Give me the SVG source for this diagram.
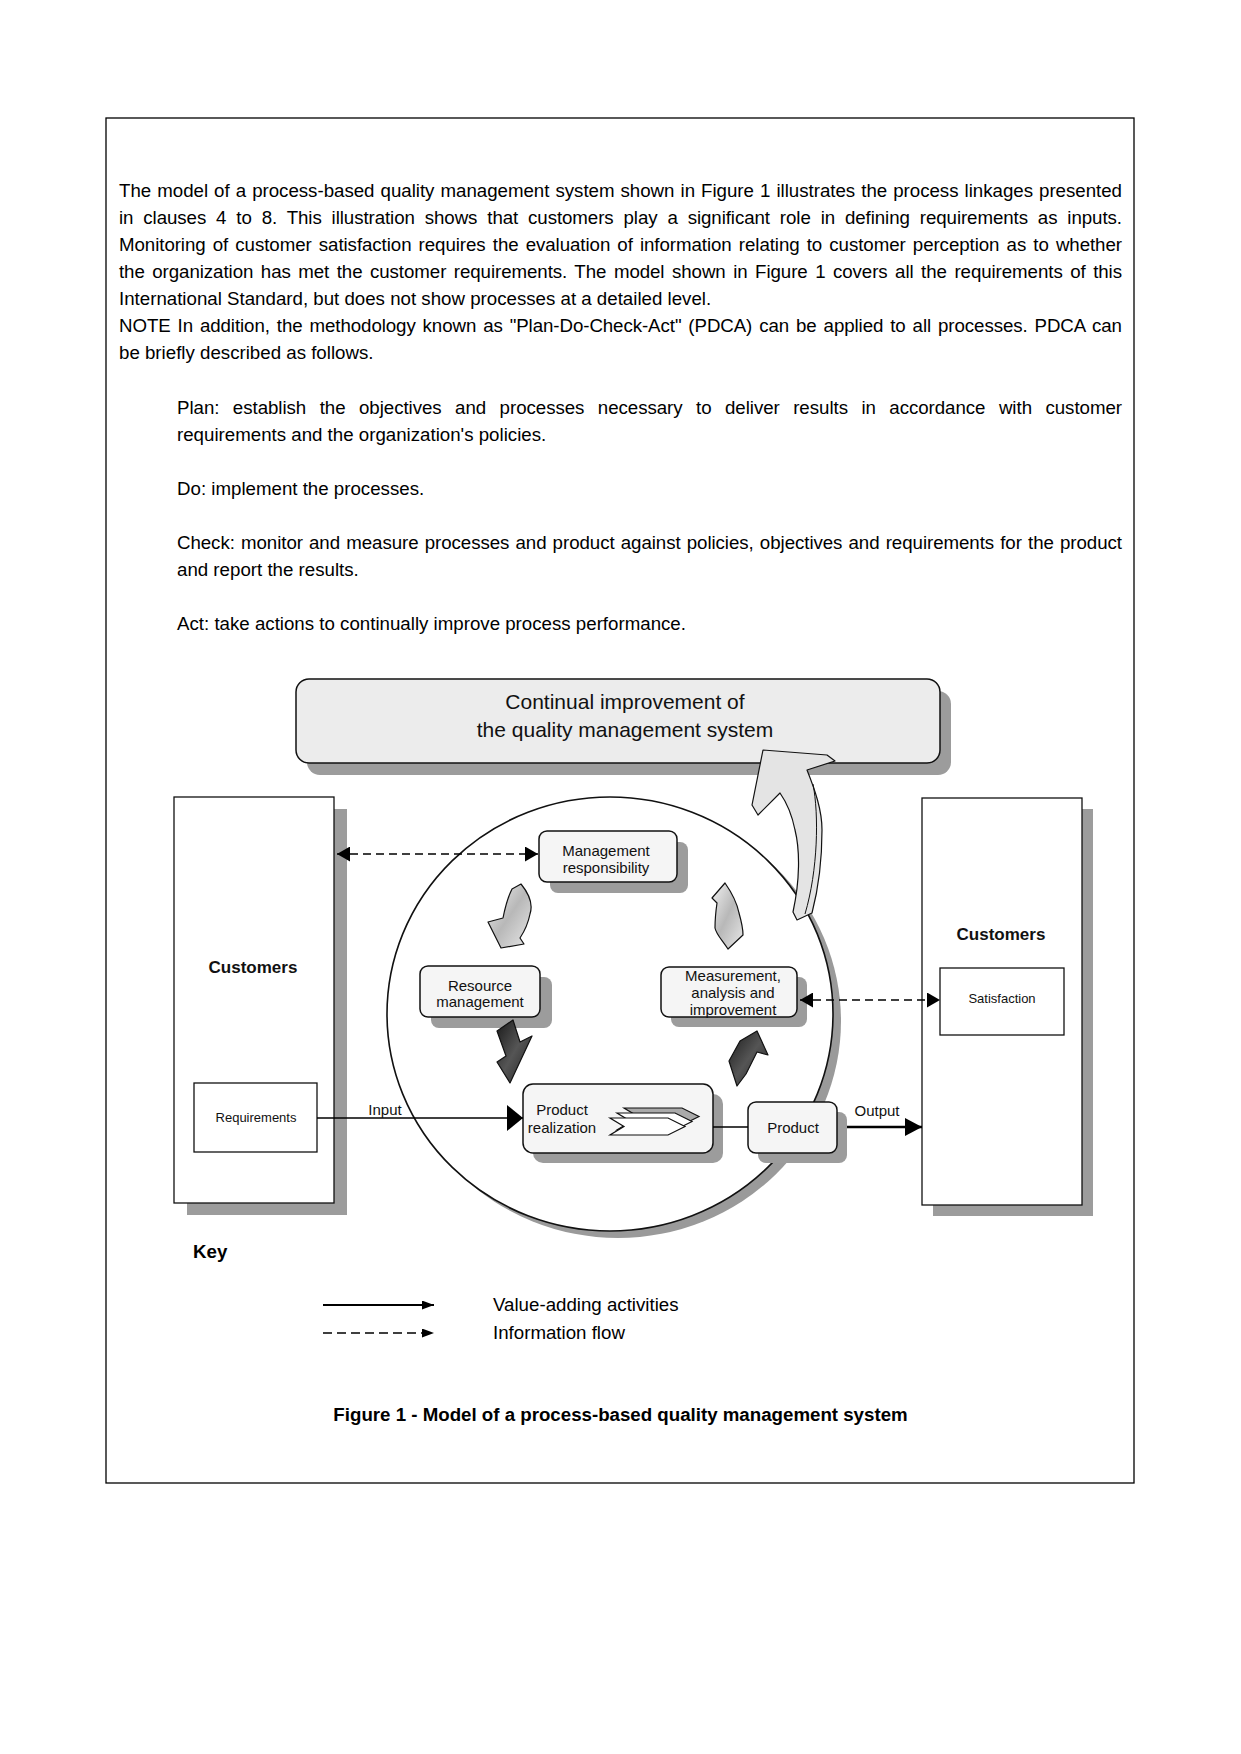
<svg xmlns="http://www.w3.org/2000/svg" width="1241" height="1754" viewBox="0 0 1241 1754">
<defs>
<style>
.body{font-family:"Liberation Sans",Arial,sans-serif;font-size:18.7px;fill:#000}
.lbl{font-family:"Liberation Sans",Arial,sans-serif;font-size:15px;fill:#111;text-anchor:middle}
.sm{font-family:"Liberation Sans",Arial,sans-serif;font-size:13px;fill:#111;text-anchor:middle}
.big{font-family:"Liberation Sans",Arial,sans-serif;font-size:21px;fill:#111;text-anchor:middle}
.cust{font-family:"Liberation Sans",Arial,sans-serif;font-size:17px;font-weight:bold;fill:#111;text-anchor:middle}
.bold{font-weight:bold}
.box{fill:#f5f5f5;stroke:#111;stroke-width:1.5}
.shadow{fill:#9c9c9c}
.plain{fill:#fff;stroke:#111;stroke-width:1.3}
.conn{stroke:#000;stroke-width:1.5;fill:none}
.dash{stroke:#000;stroke-width:1.5;fill:none;stroke-dasharray:8 5}
.blk{stroke:#111;stroke-width:1.2;stroke-linejoin:round}
</style>
<marker id="mBig" markerUnits="userSpaceOnUse" markerWidth="16" markerHeight="26" refX="16" refY="13" orient="auto"><path d="M0,0 L16,13 L0,26 Z" fill="#000"/></marker>
<marker id="mOut" markerUnits="userSpaceOnUse" markerWidth="17" markerHeight="18" refX="17" refY="9" orient="auto"><path d="M0,0 L17,9 L0,18 Z" fill="#000"/></marker>
<marker id="mDash" markerUnits="userSpaceOnUse" markerWidth="13" markerHeight="15" refX="13" refY="7.5" orient="auto-start-reverse"><path d="M0,0 L13,7.5 L0,15 Z" fill="#000"/></marker>
<marker id="mKey" markerUnits="userSpaceOnUse" markerWidth="12" markerHeight="9" refX="12" refY="4.5" orient="auto"><path d="M0,0 L12,4.5 L0,9 Z" fill="#000"/></marker>
<linearGradient id="gLight" x1="0" y1="0" x2="1" y2="1"><stop offset="0" stop-color="#f2f2f2"/><stop offset="0.5" stop-color="#b8b8b8"/><stop offset="1" stop-color="#e8e8e8"/></linearGradient>
<linearGradient id="gDark" x1="0" y1="0" x2="1" y2="1"><stop offset="0" stop-color="#1a1a1a"/><stop offset="0.5" stop-color="#555"/><stop offset="1" stop-color="#222"/></linearGradient>
<path id="chev" d="M0,0 H58 L75,8.5 L58,17 H0 L14,8.5 Z"/>
</defs>

<rect x="0" y="0" width="1241" height="1754" fill="#fff"/>
<rect id="page-frame" x="106" y="118" width="1028" height="1365" fill="none" stroke="#000" stroke-width="1.3"/>

<g id="intro-text" class="body">
<text x="119" y="197" word-spacing="0.9" textLength="1003" lengthAdjust="spacing">The model of a process-based quality management system shown in Figure 1 illustrates the process linkages presented</text>
<text x="119" y="224" word-spacing="4.8" textLength="1003" lengthAdjust="spacing">in clauses 4 to 8. This illustration shows that customers play a significant role in defining requirements as inputs.</text>
<text x="119" y="251" word-spacing="2" textLength="1003" lengthAdjust="spacing">Monitoring of customer satisfaction requires the evaluation of information relating to customer perception as to whether</text>
<text x="119" y="278" word-spacing="2.4" textLength="1003" lengthAdjust="spacing">the organization has met the customer requirements. The model shown in Figure 1 covers all the requirements of this</text>
<text x="119" y="305">International Standard, but does not show processes at a detailed level.</text>
<text x="119" y="332" word-spacing="1.8" textLength="1003" lengthAdjust="spacing">NOTE In addition, the methodology known as "Plan-Do-Check-Act" (PDCA) can be applied to all processes. PDCA can</text>
<text x="119" y="359">be briefly described as follows.</text>
<text x="177" y="414" word-spacing="8.3" textLength="945" lengthAdjust="spacing">Plan: establish the objectives and processes necessary to deliver results in accordance with customer</text>
<text x="177" y="441">requirements and the organization's policies.</text>
<text x="177" y="495">Do: implement the processes.</text>
<text x="177" y="549" word-spacing="1" textLength="945" lengthAdjust="spacing">Check: monitor and measure processes and product against policies, objectives and requirements for the product</text>
<text x="177" y="576">and report the results.</text>
<text x="177" y="630">Act: take actions to continually improve process performance.</text>
</g>

<g id="banner">
<rect class="shadow" x="307" y="691" width="644" height="84" rx="13"/>
<rect x="296" y="679" width="644" height="84" rx="13" fill="#ececec" stroke="#111" stroke-width="1.5"/>
<text class="big" x="625" y="709">Continual improvement of</text>
<text class="big" x="625" y="737">the quality management system</text>
</g>

<g id="qms-circle">
<ellipse cx="618" cy="1021" rx="223" ry="217" fill="#9a9a9a"/>
<ellipse cx="610" cy="1014" rx="223" ry="217" fill="#fff" stroke="#111" stroke-width="1.6"/>
</g>

<g id="customers-left">
<rect class="shadow" x="187" y="809" width="160" height="406"/>
<rect class="plain" x="174" y="797" width="160" height="406"/>
<text class="cust" x="253" y="973">Customers</text>
</g>
<g id="requirements">
<rect class="plain" x="194" y="1083" width="123" height="69"/>
<text class="sm" x="256" y="1122">Requirements</text>
</g>

<g id="customers-right">
<rect class="shadow" x="933" y="809" width="160" height="407"/>
<rect class="plain" x="922" y="798" width="160" height="407"/>
<text class="cust" x="1001" y="940">Customers</text>
</g>
<g id="satisfaction">
<rect class="plain" x="940" y="968" width="124" height="67"/>
<text class="sm" x="1002" y="1003">Satisfaction</text>
</g>

<g id="management-responsibility">
<rect class="shadow" x="550" y="842" width="138" height="51" rx="8"/>
<rect class="box" x="539" y="831" width="138" height="51" rx="8"/>
<text class="lbl" x="606" y="856">Management</text>
<text class="lbl" x="606" y="873">responsibility</text>
</g>

<g id="resource-management">
<rect class="shadow" x="431" y="977" width="121" height="51" rx="8"/>
<rect class="box" x="420" y="966" width="120" height="51" rx="8"/>
<text class="lbl" x="480" y="991">Resource</text>
<text class="lbl" x="480" y="1007">management</text>
</g>

<g id="measurement-analysis-improvement">
<rect class="shadow" x="671" y="977" width="136" height="50" rx="8"/>
<rect class="box" x="661" y="967" width="136" height="50" rx="8"/>
<text class="lbl" x="733" y="981">Measurement,</text>
<text class="lbl" x="733" y="998">analysis and</text>
<text class="lbl" x="733" y="1015">improvement</text>
</g>

<g id="product-realization">
<rect class="shadow" x="533" y="1094" width="190" height="69" rx="10"/>
<rect class="box" x="523" y="1084" width="190" height="69" rx="10"/>
<text class="lbl" x="562" y="1115">Product</text>
<text class="lbl" x="562" y="1133">realization</text>
<use href="#chev" x="624" y="1108" fill="#aaa" stroke="#111" stroke-width="1.2"/>
<use href="#chev" x="617" y="1113" fill="#fff" stroke="#111" stroke-width="1.2"/>
<use href="#chev" x="610" y="1118" fill="#fff" stroke="#111" stroke-width="1.2"/>
</g>

<g id="product">
<rect class="shadow" x="758" y="1112" width="89" height="51" rx="8"/>
<rect class="box" x="748" y="1102" width="89" height="51" rx="8"/>
<text class="lbl" x="793" y="1133">Product</text>
</g>

<g id="connectors">
<line class="conn" x1="317" y1="1118" x2="523" y2="1118" marker-end="url(#mBig)"/>
<text class="lbl" x="385" y="1115">Input</text>
<line class="conn" x1="713" y1="1127" x2="748" y2="1127"/>
<line x1="847" y1="1127" x2="922" y2="1127" stroke="#000" stroke-width="2.5" marker-end="url(#mOut)"/>
<text class="lbl" x="877" y="1116">Output</text>
<line class="dash" x1="337" y1="854" x2="538" y2="854" marker-start="url(#mDash)" marker-end="url(#mDash)"/>
<line class="dash" x1="800" y1="1000" x2="940" y2="1000" marker-start="url(#mDash)" marker-end="url(#mDash)"/>
<path class="blk" fill="url(#gLight)" d="M521,884 C530,895 533,905 530,914 C528,924 524,932 520,938 L524,944 L501,948 L488,922 L503,918 C505,908 508,897 512,889 Z"/>
<path class="blk" fill="url(#gDark)" d="M497,1031 L513,1020 L520,1042 L532,1036 L510,1083 L497,1062 L506,1056 Z"/>
<path class="blk" fill="url(#gDark)" d="M737,1086 L729,1061 L740,1041 L757,1031 L768,1055 L757,1052 L746,1074 Z"/>
<path class="blk" fill="url(#gLight)" d="M725,883 C732,893 737,903 739,913 C741,920 743,928 743,935 L728,949 C722,940 716,934 715,928 C715,918 716,910 717,903 L712,898 Z"/>
<path class="blk" fill="#e4e4e4" d="M763,750 L827,755 L835,761 L807,770 C815,790 822,810 822,830 C822,860 818,890 812,913 L797,920 L793,912 C800,880 800,850 795,830 C792,815 787,803 780,793 L758,815 L752,805 Z"/>
<path d="M813,784 C819,815 818,870 805,914" fill="none" stroke="#111" stroke-width="1"/>
</g>

<g id="key">
<text class="body bold" x="193" y="1258">Key</text>
<line x1="323" y1="1305" x2="434" y2="1305" stroke="#000" stroke-width="2" marker-end="url(#mKey)"/>
<line x1="323" y1="1333" x2="434" y2="1333" stroke="#000" stroke-width="1.5" stroke-dasharray="9 5" marker-end="url(#mKey)"/>
<text class="body" x="493" y="1311">Value-adding activities</text>
<text class="body" x="493" y="1339">Information flow</text>
</g>

<g id="caption">
<text class="body bold" x="620.5" y="1421" text-anchor="middle">Figure 1 - Model of a process-based quality management system</text>
</g>
</svg>
